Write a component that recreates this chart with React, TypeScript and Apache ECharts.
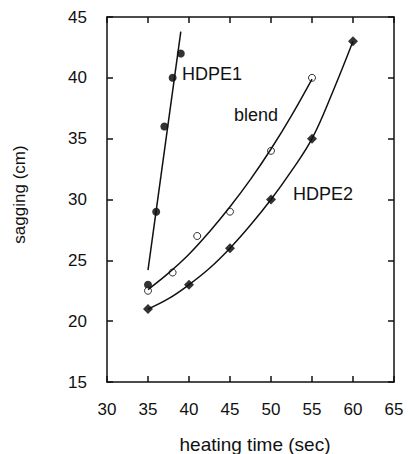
import React, { useEffect, useRef } from "react";
import * as echarts from "echarts";

// measured points
const hdpe1Time = [35, 36, 37, 38, 39];
const hdpe1Sag = [23, 29, 36, 40, 42];
const blendTime = [35, 38, 41, 45, 50, 55];
const blendSag = [22.5, 24, 27, 29, 34, 40];
const hdpe2Time = [35, 40, 45, 50, 55, 60];
const hdpe2Sag = [21, 23, 26, 30, 35, 43];

// fitted curves
const hdpe1FitTime = [35, 39];
const hdpe1FitSag = [24.2, 43.8];
const blendFitTime = [35, 37.5, 40, 42.5, 45, 47.5, 50, 52.5, 55];
const blendFitSag = [22.6, 23.95, 25.5, 27.35, 29.4, 31.65, 34.15, 36.9, 39.9];
const hdpe2FitTime = [35, 37.5, 40, 42.5, 45, 47.5, 50, 52.5, 55, 57.5, 60];
const hdpe2FitSag = [21, 21.85, 23, 24.35, 26, 27.9, 30, 32.35, 35, 38.8, 43];

const labels = [
  { text: "HDPE1", x: 182, y: 74 },
  { text: "blend", x: 234, y: 115 },
  { text: "HDPE2", x: 293, y: 194 },
];
const xTitle = "heating time (sec)";
const yTitle = "sagging (cm)";

const zip = (xs: number[], ys: number[]) => xs.map((x, i) => [x, ys[i]]);

const FONT = "'Liberation Sans', Arial, Helvetica, sans-serif";
const INK = "#111";

const mkLine = () => ({ show: true, onZero: false, lineStyle: { color: INK, width: 1.5 } });
const mkTick = () => ({ show: true, inside: true, length: 6, lineStyle: { color: INK, width: 1.5 } });

const W = 411;
const H = 454;

function fitSeries(xs: number[], ys: number[], smooth: number | boolean) {
  return {
    type: "line",
    data: zip(xs, ys),
    smooth,
    showSymbol: false,
    lineStyle: { color: INK, width: 1.5 },
    silent: true,
  };
}

export default function App() {
  const ref = useRef<HTMLDivElement>(null);
  useEffect(() => {
    if (!ref.current) return;
    const chart = echarts.init(ref.current, undefined, { renderer: "svg" });
    chart.setOption({
      animation: false,
      grid: { left: 107, right: 17, top: 17, bottom: 72, containLabel: false, outerBoundsMode: "none" },
      xAxis: [
        {
          type: "value",
          min: 30,
          max: 65,
          interval: 5,
          position: "bottom",
          axisLine: mkLine(),
          axisTick: mkTick(),
          splitLine: { show: false },
          axisLabel: { color: INK, fontSize: 17, fontFamily: FONT, margin: 19 },
        },
        {
          type: "value",
          min: 30,
          max: 65,
          interval: 5,
          position: "top",
          axisLine: mkLine(),
          axisTick: mkTick(),
          splitLine: { show: false },
          axisLabel: { show: false },
        },
      ],
      yAxis: [
        {
          type: "value",
          min: 15,
          max: 45,
          interval: 5,
          position: "left",
          axisLine: mkLine(),
          axisTick: mkTick(),
          splitLine: { show: false },
          axisLabel: { color: INK, fontSize: 17, fontFamily: FONT, margin: 20 },
          name: yTitle,
          nameLocation: "middle",
          nameGap: 79,
          nameTextStyle: { color: INK, fontSize: 17, fontFamily: FONT, padding: [0, 0, 0, 10] },
        },
        {
          type: "value",
          min: 15,
          max: 45,
          interval: 5,
          position: "right",
          axisLine: mkLine(),
          axisTick: mkTick(),
          splitLine: { show: false },
          axisLabel: { show: false },
        },
      ],
      series: [
        fitSeries(hdpe1FitTime, hdpe1FitSag, false),
        fitSeries(blendFitTime, blendFitSag, 0.4),
        fitSeries(hdpe2FitTime, hdpe2FitSag, 0.4),
        {
          type: "scatter",
          data: zip(hdpe1Time, hdpe1Sag),
          symbol: "circle",
          symbolSize: 8,
          itemStyle: { color: "#000" },
        },
        {
          type: "scatter",
          data: zip(blendTime, blendSag),
          symbol: "circle",
          symbolSize: 7,
          itemStyle: { color: "#fff", borderColor: "#000", borderWidth: 1 },
        },
        {
          type: "scatter",
          data: zip(hdpe2Time, hdpe2Sag),
          symbol: "diamond",
          symbolSize: 10,
          itemStyle: { color: "#000" },
        },
      ],
      graphic: [
        {
          type: "text",
          x: 255,
          y: 444,
          style: {
            text: xTitle,
            fill: INK,
            fontSize: 19,
            fontFamily: FONT,
            verticalAlign: "middle",
            align: "center",
          },
        },
        ...labels.map((l) => ({
          type: "text",
          x: l.x,
          y: l.y,
          style: {
            text: l.text,
            fill: INK,
            fontSize: 18,
            fontFamily: FONT,
            verticalAlign: "middle",
            align: "left",
          },
        })),
      ],
    });
    return () => chart.dispose();
  }, []);
  return (
    <div>
      <div ref={ref} style={{ width: W, height: H, position: "absolute", left: 0, top: 0 }} />
    </div>
  );
}
